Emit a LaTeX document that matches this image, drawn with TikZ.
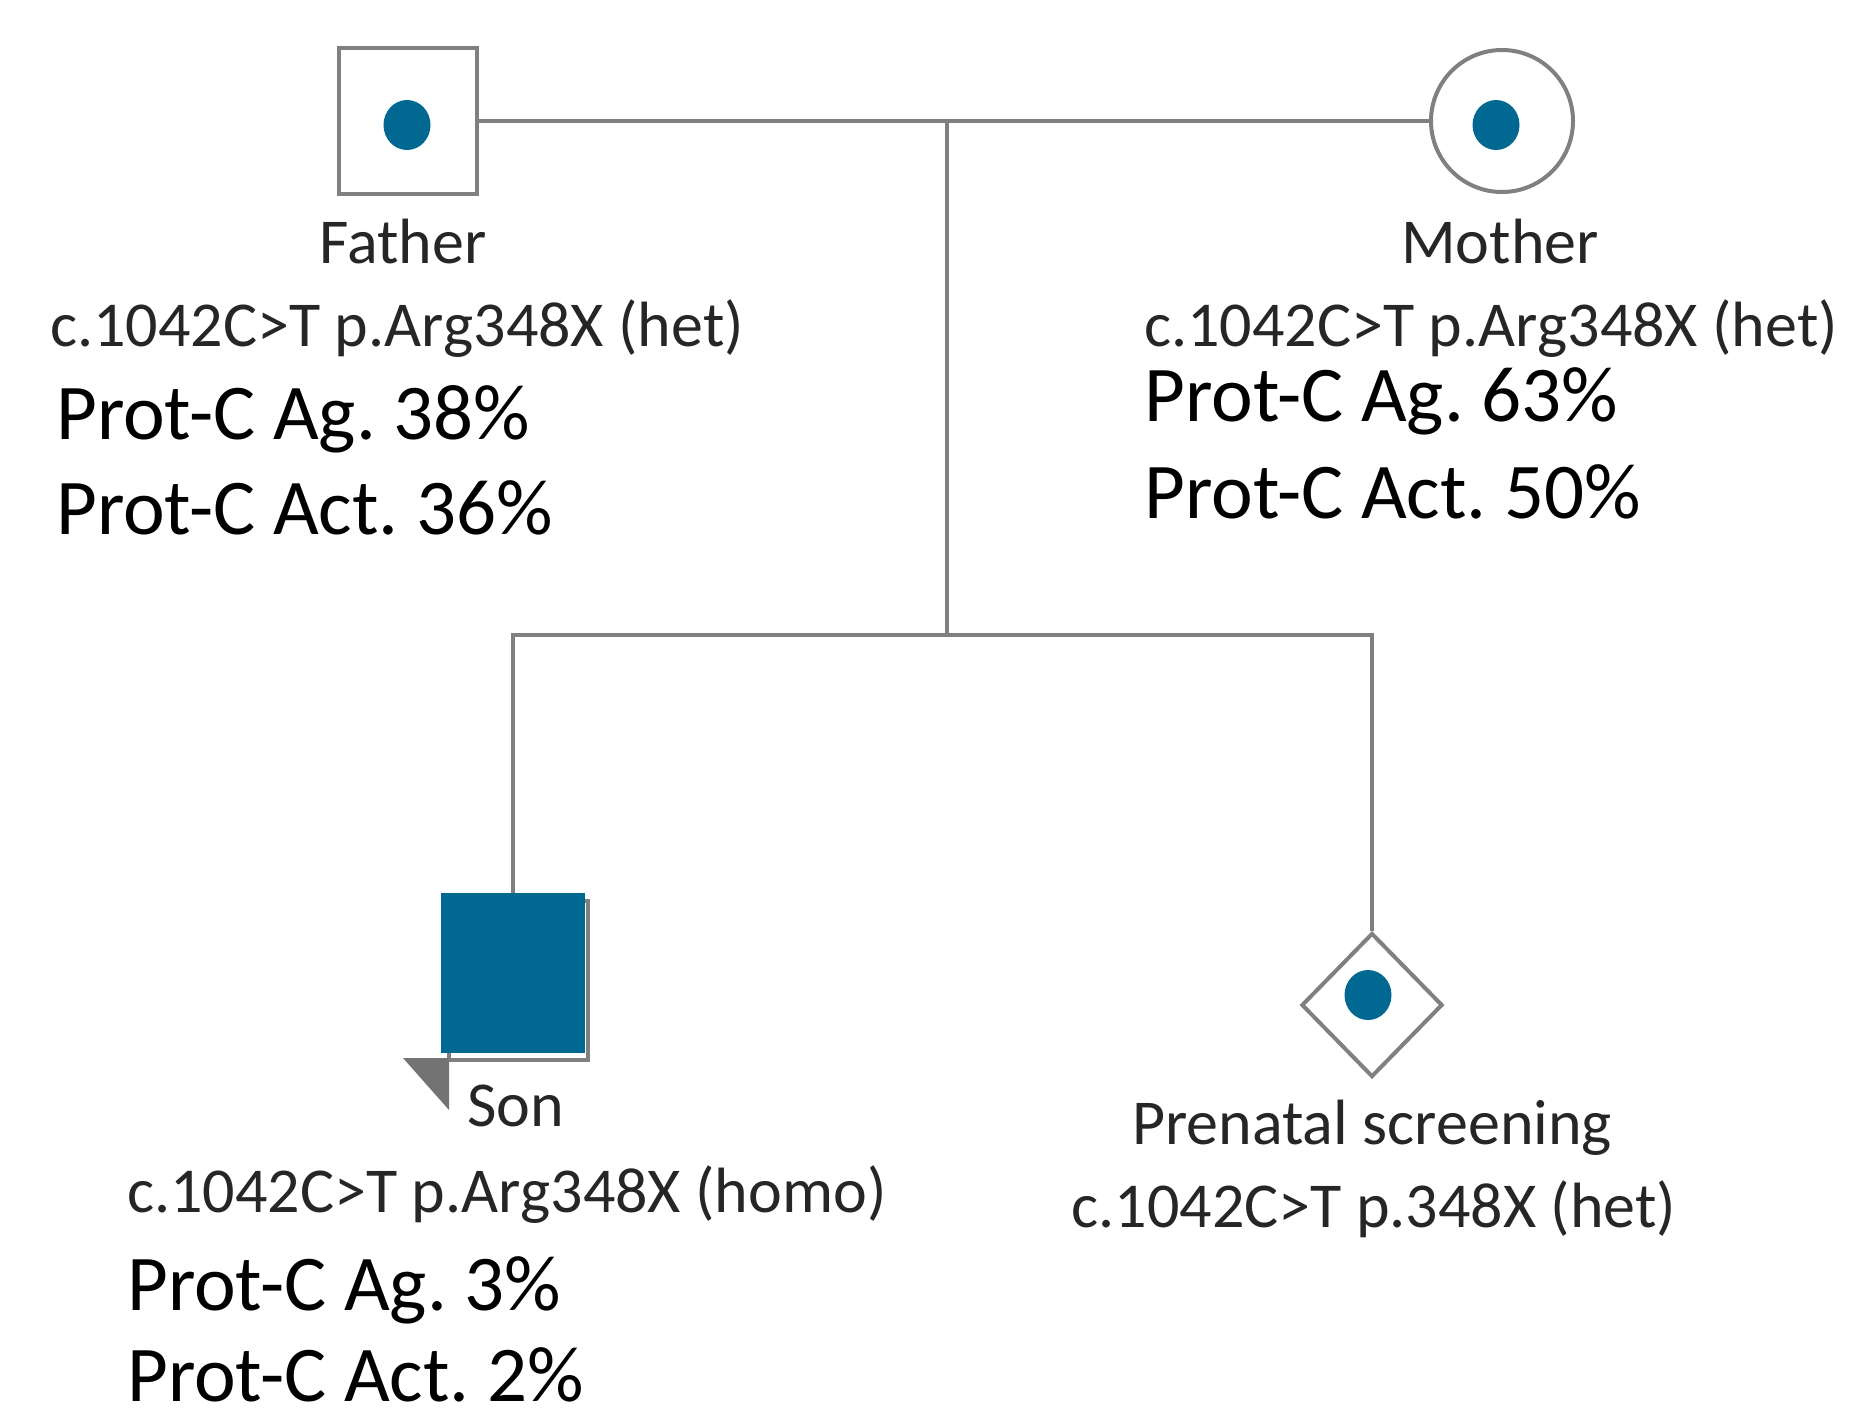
\documentclass[tikz,border=0pt]{standalone}
\usepackage{fontspec}
\setmainfont{Carlito}
\usetikzlibrary{shapes.geometric}
\definecolor{pblue}{RGB}{0,104,145}
\definecolor{pgray}{RGB}{128,128,128}
\frenchspacing
\tikzset{
  sym/.style={draw=pgray, line width=4pt, fill=white, inner sep=0pt},
  dot/.style={ellipse, fill=pblue, minimum width=47pt, minimum height=50pt, inner sep=0pt},
  conn/.style={draw=pgray, line width=3.5pt},
  small/.style={font=\fontsize{64}{64}\selectfont\frenchspacing, text=black!85, inner sep=0pt},
  big/.style={font=\fontsize{79}{79}\selectfont\frenchspacing, text=black, inner sep=0pt}
}
\begin{document}
\begin{tikzpicture}[x=1pt,y=-1pt]
\useasboundingbox (0,0) rectangle (1859,1419);
\fill[white] (0,0) rectangle (1859,1419);
% parents
\node[sym, rectangle, minimum width=138pt, minimum height=146pt] (father) at (408,121) {};
\node[sym, circle, minimum size=142pt] (mother) at (1502,121) {};
\node[dot] (fdot) at (407,125) {};
\node[dot] (mdot) at (1496,125) {};
% children
\draw[pgray, line width=4pt] (449,901) rectangle (588,1060);
\node[rectangle, fill=pblue, minimum width=144pt, minimum height=160pt, inner sep=0pt] (son) at (513,973) {};
\fill[pgray!90!black] (403,1058) -- (449,1058) -- (449,1110) -- cycle;
\node[sym, diamond, minimum width=141pt, minimum height=144pt] (pren) at (1372,1005) {};
\node[dot] (pdot) at (1368,995) {};
% connectors
\coordinate (mid) at (947,121);
\coordinate (sib) at (947,635);
\draw[conn] (father.east) -- (mother.west);
\draw[conn] (mid) -- (sib);
\draw[conn] (son.north) |- (sib) -| (pren.north);
% father labels
\node[small, anchor=base] (flab) at (403,263) {Father};
\node[small, anchor=base west] (fmut) at (50,346) {c.1042C>T p.Arg348X (het)};
\node[big, anchor=base west] (fag) at (56,439) {Prot-C Ag. 38\%};
\node[big, anchor=base west] (fact) at (56,534) {Prot-C Act. 36\%};
% mother labels
\node[small, anchor=base] (mlab) at (1500,263) {Mother};
\node[small, anchor=base west] (mmut) at (1144,346) {c.1042C>T p.Arg348X (het)};
\node[big, anchor=base west] (mag) at (1144,421) {Prot-C Ag. 63\%};
\node[big, anchor=base west] (mact) at (1144,518) {Prot-C Act. 50\%};
% son labels
\node[small, anchor=base] (slab) at (516,1126) {Son};
\node[small, anchor=base west] (smut) at (127,1212) {c.1042C>T p.Arg348X (homo)};
\node[big, anchor=base west] (sag) at (127,1310) {Prot-C Ag. 3\%};
\node[big, anchor=base west] (sact) at (127,1401) {Prot-C Act. 2\%};
% prenatal labels
\node[small, anchor=base] (plab) at (1372,1144) {Prenatal screening};
\node[small, anchor=base] (pmut) at (1374,1227) {c.1042C>T p.348X (het)};
\end{tikzpicture}
\end{document}
